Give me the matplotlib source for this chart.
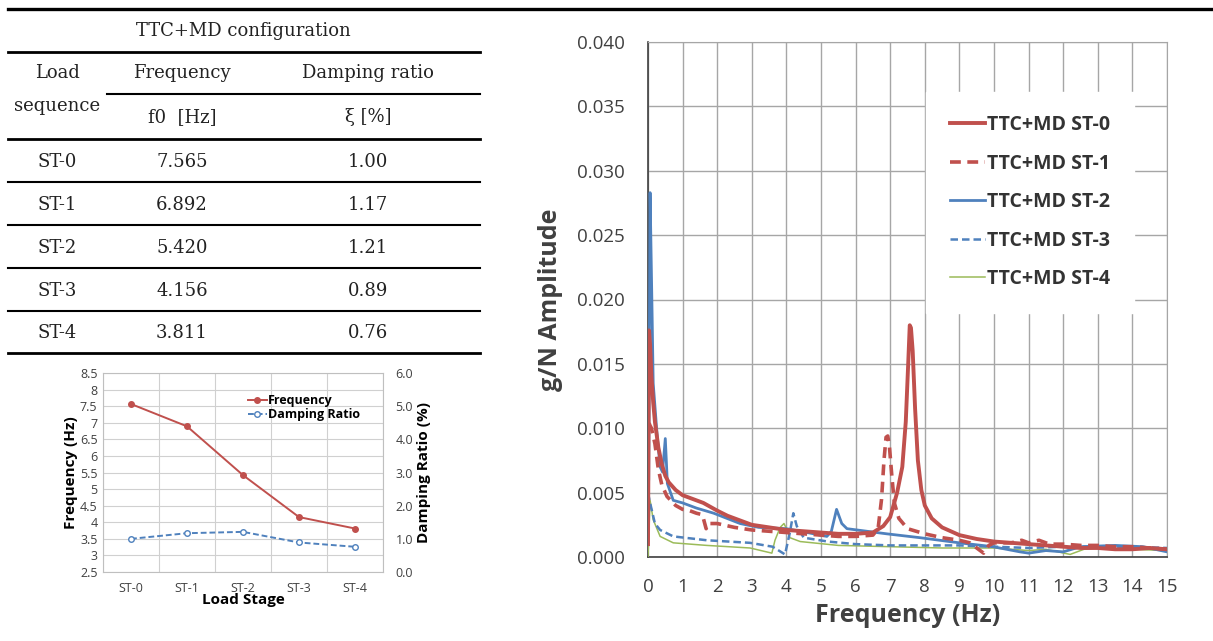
import numpy as np
import matplotlib.pyplot as plt
from matplotlib.ticker import FormatStrFormatter, FuncFormatter

# --- data -------------------------------------------------------------
stages = ['ST-0', 'ST-1', 'ST-2', 'ST-3', 'ST-4']
freq_hz = [7.565, 6.892, 5.420, 4.156, 3.811]
damping_pct = [1.00, 1.17, 1.21, 0.89, 0.76]

series_labels = ['TTC+MD ST-0', 'TTC+MD ST-1', 'TTC+MD ST-2', 'TTC+MD ST-3', 'TTC+MD ST-4']

st0_f = [0.0, 0.03, 0.06, 0.1, 0.15, 0.2, 0.3, 0.4, 0.5, 0.6, 0.8, 1.0, 1.2, 1.4, 1.6, 1.8,
         2.0, 2.3, 2.6, 3.0, 3.5, 4.0, 4.5, 5.0, 5.5, 6.0, 6.5, 6.8, 7.0, 7.2, 7.35, 7.45,
         7.52, 7.565, 7.6, 7.65, 7.72, 7.8, 7.9, 8.0, 8.2, 8.5, 9.0, 9.5, 10.0, 10.5, 11.0,
         11.5, 12.0, 12.5, 13.0, 13.5, 14.0, 14.5, 15.0]
st0_a = [0.0010, 0.0176, 0.0165, 0.0140, 0.0120, 0.0105, 0.0085, 0.0072, 0.0063, 0.0058,
         0.0052, 0.0048, 0.0046, 0.0044, 0.0042, 0.0039, 0.0036, 0.0032, 0.0029, 0.0025,
         0.0023, 0.0021, 0.0020, 0.0019, 0.0018, 0.0018, 0.0019, 0.0024, 0.0031, 0.0050,
         0.0070, 0.0105, 0.0150, 0.0180, 0.0178, 0.0160, 0.0115, 0.0075, 0.0052, 0.0040,
         0.0030, 0.0023, 0.0017, 0.0014, 0.0012, 0.0011, 0.0010, 0.0009, 0.0008, 0.0007,
         0.0007, 0.0006, 0.0006, 0.0007, 0.0006]

st1_f = [0.03, 0.06, 0.1, 0.2, 0.3, 0.4, 0.55, 0.8, 1.0, 1.2, 1.4, 1.55, 1.6, 1.68, 1.75,
         2.0, 2.5, 3.0, 3.5, 4.0, 4.5, 5.0, 5.5, 6.0, 6.5, 6.65, 6.75, 6.82, 6.88, 6.93,
         6.98, 7.05, 7.12, 7.25, 7.5, 8.0, 8.5, 9.0, 9.3, 9.55, 9.7, 9.85, 10.0, 10.5, 10.8,
         11.0, 11.3, 11.6, 12.0, 12.5, 13.0, 13.5, 14.0, 14.5, 15.0]
st1_a = [0.0104, 0.0102, 0.0100, 0.0088, 0.0068, 0.0056, 0.0047, 0.0040, 0.0037, 0.0036,
         0.0034, 0.0033, 0.0030, 0.0022, 0.0026, 0.0026, 0.0023, 0.0021, 0.0020, 0.0019,
         0.0018, 0.0017, 0.0016, 0.0016, 0.0017, 0.0022, 0.0045, 0.0075, 0.0093, 0.0094,
         0.0085, 0.0062, 0.0042, 0.0030, 0.0022, 0.0018, 0.0015, 0.0013, 0.0011, 0.0006,
         0.0003, 0.0009, 0.0011, 0.0011, 0.0013, 0.0011, 0.0013, 0.0010, 0.0010, 0.0009,
         0.0009, 0.0008, 0.0008, 0.0007, 0.0006]

st2_f = [0.0, 0.02, 0.06, 0.12, 0.15, 0.26, 0.35, 0.42, 0.5, 0.56, 0.73, 1.0, 1.4, 1.9,
         2.66, 3.2, 4.0, 4.6, 5.17, 5.3, 5.45, 5.6, 5.75, 6.9, 7.86, 9.0, 9.97, 10.75,
         11.0, 11.5, 12.0, 12.5, 13.5, 14.3, 15.0]
st2_a = [0.0050, 0.0060, 0.0283, 0.0186, 0.0135, 0.0096, 0.0070, 0.0066, 0.0092, 0.0057,
         0.0044, 0.0042, 0.0038, 0.0034, 0.0026, 0.0023, 0.0022, 0.0019, 0.0016, 0.0020,
         0.0037, 0.0026, 0.0022, 0.0018, 0.0015, 0.0011, 0.0008, 0.0004, 0.0003, 0.0005,
         0.0004, 0.0008, 0.0009, 0.0008, 0.0004]

st3_f = [0.0, 0.06, 0.2, 0.35, 0.73, 1.7, 2.95, 3.6, 3.96, 4.1, 4.2, 4.3, 4.5, 5.2, 6.0,
         7.0, 8.0, 9.0, 10.0, 11.0, 12.0, 13.0, 14.0, 15.0]
st3_a = [0.0050, 0.0042, 0.0026, 0.0021, 0.0016, 0.0013, 0.0011, 0.0008, 0.0002, 0.0019,
         0.0034, 0.0024, 0.0015, 0.0012, 0.0010, 0.0009, 0.0009, 0.0009, 0.0008, 0.0007,
         0.0008, 0.0008, 0.0008, 0.0007]

st4_f = [0.0, 0.06, 0.15, 0.35, 0.73, 1.7, 2.95, 3.58, 3.67, 3.82, 3.93, 4.02, 4.1, 4.4,
         5.5, 7.0, 8.5, 10.0, 11.0, 11.5, 12.2, 12.6, 13.0, 14.0, 15.0]
st4_a = [0.0000, 0.0044, 0.0029, 0.0016, 0.0011, 0.0009, 0.0007, 0.0003, 0.0013, 0.0023,
         0.0026, 0.0021, 0.0015, 0.0012, 0.0009, 0.0008, 0.0007, 0.0007, 0.0005, 0.0006,
         0.0002, 0.0006, 0.0007, 0.0006, 0.0005]

RED = '#C0504D'
BLUE = '#4F81BD'
GREEN = '#9BBB59'
TXT = '#404040'

W, H = 1213, 641
fig = plt.figure(figsize=(W / 100, H / 100), dpi=100)

# --- table (drawn in pixel coordinates) --------------------------------
tab = fig.add_axes([0, 0, 1, 1])
tab.set_xlim(0, W)
tab.set_ylim(H, 0)
tab.axis('off')

serif = dict(family='DejaVu Serif', fontsize=13, color='#222222', ha='center', va='center')
tab.plot([8, W], [9, 9], color='black', lw=2.4)
tab.plot([8, 480], [52, 52], color='black', lw=2.0)
tab.plot([107, 480], [94, 94], color='black', lw=1.5)
tab.plot([8, 480], [139, 139], color='black', lw=2.0)
tab.plot([8, 480], [353, 353], color='black', lw=2.0)
for yy in [182, 225, 268, 311]:
    tab.plot([8, 480], [yy, yy], color='black', lw=1.5)

tab.text(243, 31, 'TTC+MD configuration', **serif)
tab.text(57, 73, 'Load', **serif)
tab.text(57, 106, 'sequence', **serif)
tab.text(182, 73, 'Frequency', **serif)
tab.text(368, 73, 'Damping ratio', **serif)
tab.text(182, 117, 'f0  [Hz]', **serif)
tab.text(368, 117, '\u03be [%]', **serif)
row_y = [162, 205, 248, 291, 333]
for i, st in enumerate(stages):
    tab.text(57, row_y[i], st, **serif)
    tab.text(182, row_y[i], f'{freq_hz[i]:.3f}', **serif)
    tab.text(368, row_y[i], f'{damping_pct[i]:.2f}', **serif)

# --- small chart: frequency / damping vs load stage --------------------
plt.rcParams['font.family'] = ['Open Sans', 'DejaVu Sans']
ax1 = fig.add_axes([103 / W, 1 - 572 / H, (383 - 103) / W, (572 - 373) / H])
xs = np.arange(len(stages))
ax1.set_xlim(-0.5, len(stages) - 0.5)
ax1.set_ylim(2.5, 8.5)
ax1.set_yticks(np.arange(2.5, 8.51, 0.5))
ax1.yaxis.set_major_formatter(FuncFormatter(lambda v, p: f'{v:g}'))
ax1.set_xticks(xs)
ax1.set_xticklabels(stages)
ax1.set_xticks(np.arange(-0.5, len(stages), 0.5), minor=True)
ax1.grid(True, which='minor', axis='x', color='#D0D0D0', lw=0.8)
ax1.grid(True, which='major', axis='y', color='#D0D0D0', lw=0.8)
ax1.tick_params(which='both', length=0, labelsize=9, colors=TXT)
ax1.tick_params(axis='x', pad=7)
ax1.tick_params(axis='y', pad=4)
for s in ax1.spines.values():
    s.set_color('#BFBFBF')
ln1, = ax1.plot(xs, freq_hz, color=RED, lw=1.4, marker='o', ms=4, label='Frequency')
ax1.set_ylabel('Frequency (Hz)', fontsize=11, fontweight='bold', labelpad=1)
ax1.set_xlabel('Load Stage', fontsize=11, fontweight='bold', labelpad=-1)

ax2 = ax1.twinx()
ax2.set_ylim(0, 6)
ax2.set_yticks(np.arange(0, 6.01, 1.0))
ax2.yaxis.set_major_formatter(FormatStrFormatter('%.1f'))
ax2.tick_params(length=0, labelsize=9, colors=TXT, pad=9)
for s in ax2.spines.values():
    s.set_visible(False)
ln2, = ax2.plot(xs, damping_pct, color=BLUE, lw=1.4, ls='--', dashes=(3, 1.5), marker='o',
                ms=4, mfc='white', mec=BLUE, label='Damping Ratio')
ax2.set_ylabel('Damping Ratio (%)', fontsize=11, fontweight='bold', labelpad=3)
ax2.legend([ln1, ln2], ['Frequency', 'Damping Ratio'], loc='upper left',
           bbox_to_anchor=(0.5, 0.92), frameon=False, handlelength=1.5,
           handletextpad=0.1, labelspacing=0.1, borderaxespad=0,
           prop={'size': 9, 'weight': 'bold'})

# --- main chart: FRF amplitude ----------------------------------------
ax = fig.add_axes([648 / W, 1 - 557 / H, (1167 - 648) / W, (557 - 42) / H])
ax.plot(st4_f, st4_a, color=GREEN, lw=1.1, label=series_labels[4], zorder=3)
ax.plot(st3_f, st3_a, color=BLUE, lw=1.8, ls='--', dashes=(3, 1.6), label=series_labels[3], zorder=4)
ax.plot(st2_f, st2_a, color=BLUE, lw=2.0, label=series_labels[2], zorder=5)
ax.plot(st1_f, st1_a, color=RED, lw=2.6, ls='--', dashes=(3, 1.8), label=series_labels[1], zorder=6)
ax.plot(st0_f, st0_a, color=RED, lw=2.8, label=series_labels[0], zorder=7)

ax.set_xlim(0, 15)
ax.set_ylim(0, 0.040)
ax.set_xticks(range(16))
ax.set_yticks(np.arange(0, 0.0401, 0.005))
ax.yaxis.set_major_formatter(FormatStrFormatter('%.3f'))
ax.grid(True, color='#A6A6A6', lw=1.0)
ax.set_axisbelow(True)
ax.tick_params(length=0, labelsize=13.5, colors=TXT)
ax.tick_params(axis='y', pad=17)
ax.tick_params(axis='x', pad=15)
for side in ['top', 'right']:
    ax.spines[side].set_color('#A6A6A6')
for side in ['left', 'bottom']:
    ax.spines[side].set_color('#404040')
    ax.spines[side].set_linewidth(1.2)
ax.set_xlabel('Frequency (Hz)', fontsize=18, fontweight='bold', color=TXT, labelpad=5)
ax.set_ylabel('g/N Amplitude', fontsize=18, fontweight='bold', color=TXT, labelpad=10)

handles, labels = ax.get_legend_handles_labels()
leg = ax.legend(handles[::-1], labels[::-1], loc='upper left', bbox_to_anchor=(0.536, 0.903),
                borderaxespad=0, borderpad=1.2, handlelength=1.8, handletextpad=0.15,
                labelspacing=0.95, fancybox=False, framealpha=1, edgecolor='white',
                prop={'size': 14, 'weight': 'bold'})
for t in leg.get_texts():
    t.set_color('#333333')

fig.savefig('out.png', dpi=100)
